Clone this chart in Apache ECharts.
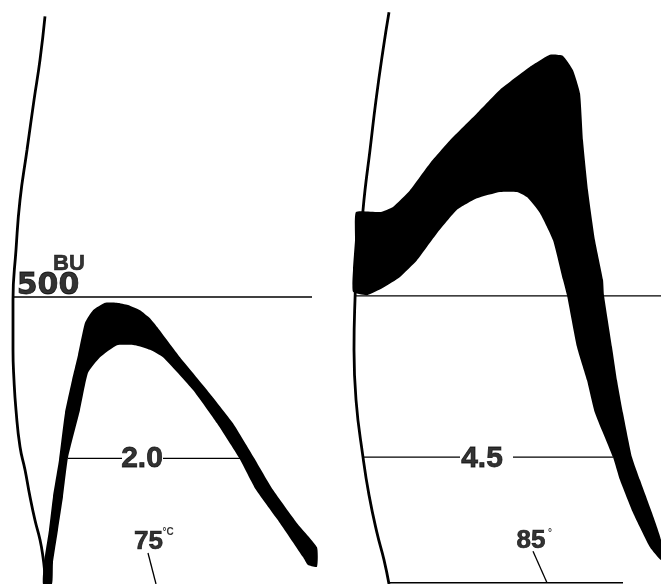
<!DOCTYPE html>
<html><head><meta charset="utf-8">
<script src="https://cdn.jsdelivr.net/npm/echarts@6/dist/echarts.min.js"></script>
<style>html,body{margin:0;padding:0;background:#fff}#c{width:661px;height:584px}</style>
</head><body><div id="c"></div>
<script>
// x: chart time units (chart-paper minutes), y: Brabender units (BU)
const leftBand = [
 [4.3,0],[4.4,37],[4.9,94],[5.3,152],[5.9,216],[6.5,298],[7.2,355],[7.8,399],[8.5,455],[9.3,477],
 [10.5,490],[11.7,490],[12.8,486],[14.0,477],[15.0,463],[15.7,448],[18.0,395],[20.7,338],[23.3,280],
 [25.4,220],[27.3,164],[29.7,106],[31.7,64],[31.7,30],
 [30.8,33],[30.3,47],[28.0,106],[25.6,164],[23.9,220],[21.7,280],[19.3,338],[16.3,395],[15.0,408],
 [13.5,416],[11.7,416],[10.0,395],[8.8,368],[8.0,303],[6.8,220],[6.3,152],[5.8,94],[5.3,37],[5.2,0]
];
const rightBand = [
 [35.6,648],[38.0,648],[39.3,657],[41.0,686],[43.0,733],[45.0,773],[47.7,820],[50.0,861],[53.0,901],
 [55.0,922],[56.3,920],[57.3,895],[58.0,855],[58.3,773],[58.8,686],[59.5,599],[60.3,530],[60.4,503],
 [61.2,413],[61.7,355],[62.3,298],[63.2,221],[64.0,181],[65.2,124],[66.1,77],[66.1,42],
 [65.0,64],[63.3,124],[62.0,181],[61.3,221],[59.5,298],[58.7,355],[57.7,413],[56.7,503],[56.3,530],
 [55.3,599],[54.0,646],[52.7,674],[51.7,683],[50.0,683],[47.7,672],[45.7,652],[43.7,611],[41.7,564],
 [40.0,535],[38.3,516],[36.7,503],[35.3,509],[35.3,547],[35.5,599]
];
const leftArc = [[4.5,989],[4.0,913],[3.4,843],[2.7,756],[2.0,669],[1.6,582],[1.3,495],[1.3,408],[1.4,355],
 [1.6,303],[2.0,239],[2.5,199],[3.0,152],[3.5,111],[4.0,77],[4.3,47],[4.5,16],[4.6,0]];
const rightArc = [[38.9,996],[38.3,930],[37.6,843],[37.0,756],[36.5,686],[36.1,617],[35.7,564],[35.5,495],
 [35.4,408],[35.6,321],[36.3,221],[36.9,155],[37.7,89],[38.4,42],[38.9,0]];
const line500Left = [[1.4,500],[31.2,500]];
const line500Right = [[35.5,502],[66.1,502]];
const line20a = [[6.8,219],[12.2,219]], line20b = [[16.3,219],[24.0,219]];
const line45a = [[36.3,221],[46.0,221]], line45b = [[51.3,221],[61.3,221]];
const lead75 = [[14.8,54],[15.6,0]];
const lead85 = [[53.3,57],[54.7,2]];
const baseRight = [[39.0,2],[62.3,2]];
const labels = [
 {text:'500', pos:[4.8,519], size:30, font:'DejaVu Sans', b:0.8},
 {text:'BU', pos:[6.9,558], size:22, font:'Liberation Sans', b:0.6},
 {text:'2.0', pos:[14.2,219], size:30, font:'Liberation Sans', b:0.8},
 {text:'4.5', pos:[48.2,219], size:30, font:'Liberation Sans', b:0.8},
 {text:'75', pos:[14.85,73], size:26, font:'Liberation Sans', b:0.7},
 {text:'°C', pos:[16.8,91], size:10, font:'Liberation Sans', b:0},
 {text:'85', pos:[53.1,75], size:26, font:'Liberation Sans', b:0.7},
 {text:'°', pos:[55.0,89], size:10, font:'Liberation Sans', b:0}
];

const chart = echarts.init(document.getElementById('c'), null, {renderer:'canvas'});
function band(pts){
  return {type:'custom', coordinateSystem:'cartesian2d', silent:true, data:pts,
    renderItem:(params, api)=> params.dataIndex===0 ? {type:'polygon',
      shape:{points: pts.map(p=>api.coord(p)), smooth:0.15}, style:{fill:'#000'}} : null};
}
function ln(d, w, smooth){
  return {type:'line', data:d, symbol:'none', smooth:smooth||false, silent:true,
    lineStyle:{color:'#000', width:w}};
}
chart.setOption({
  animation:false,
  backgroundColor:'#fff',
  grid:{left:0, right:0, top:10, bottom:0},
  xAxis:{type:'value', min:0, max:66.1, show:false},
  yAxis:{type:'value', min:0, max:1000, show:false},
  series:[
    band(leftBand), band(rightBand),
    ln(leftArc, 2.8, true), ln(rightArc, 2.8, true),
    ln(line500Left, 1.5), ln(line500Right, 1.3),
    ln(line20a, 1.3), ln(line20b, 1.3), ln(line45a, 1.3), ln(line45b, 1.3),
    ln(lead75, 1.3), ln(lead85, 1.3), ln(baseRight, 1.5),
    {type:'scatter', symbolSize:0, silent:true,
     data: labels.map(l=>({value:l.pos, label:{show:true, position:'inside', formatter:l.text,
       color:'#000', fontWeight:'bold', fontSize:l.size, fontFamily:l.font,
       textBorderColor:'#000', textBorderWidth:l.b}}))}
  ]
});
</script></body></html>
